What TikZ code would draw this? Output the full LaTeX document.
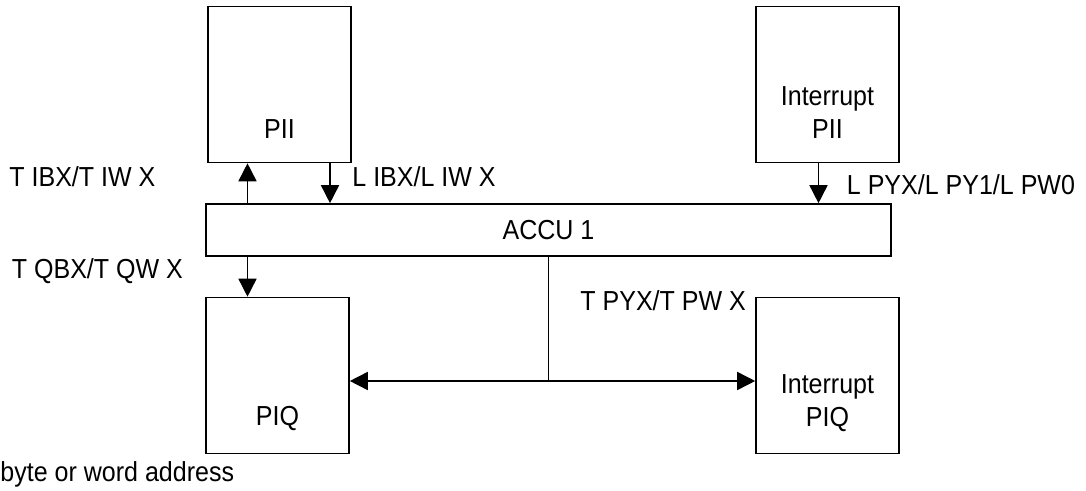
\documentclass[tikz,border=0pt]{standalone}
\usepackage{fontspec}
\setmainfont{Liberation Sans}[FakeStretch=0.91]
\usetikzlibrary{arrows.meta,positioning,calc}
\tikzset{
  >={Triangle[length=9pt,width=9pt]},
  blk/.style  ={draw,line width=0.8pt,minimum width=71.5pt,minimum height=78pt,inner sep=0pt},
  accu/.style ={draw,line width=0.8pt,minimum width=342.5pt,minimum height=26pt,inner sep=0pt},
  btxt/.style ={align=center,inner sep=0pt},
  ar/.style   ={->,line width=0.8pt},
  ln/.style   ={line width=0.8pt},
  lbl/.style  ={anchor=base west,inner sep=0pt},
}

\begin{document}
\begin{tikzpicture}[x=0.5pt,y=-0.5pt,every node/.style={font=\fontsize{13.75}{16.5}\selectfont}]
\useasboundingbox (0,0) rectangle (1086,491);

% image tables and accumulator
\node[blk]  (pii)  at (279.5,84.5)  {};
\node[blk]  (ipii) at (827.5,84.5)  {};
\node[accu] (acc)  at (548.5,230)   {ACCU 1};
\node[blk]  (piq)  at (277.5,375.5) {};
\node[blk]  (ipiq) at (827.5,375.5) {};

\node[btxt] (piit)  at ([yshift=17pt]pii.south)     {PII};
\node[btxt] (ipiit) at ([yshift=25.25pt]ipii.south) {Interrupt\\PII};
\node[btxt] (piqt)  at ([yshift=18pt]piq.south)     {PIQ};
\node[btxt] (ipiqt) at ([yshift=25.75pt]ipiq.south) {Interrupt\\PIQ};

% x positions of the transfers
\coordinate (tx) at (247.5,0);
\coordinate (lx) at (330,0);
\coordinate (px) at (818.5,0);
\coordinate (br) at (548.5,381);

\draw[ar] (tx |- acc.north) -- (tx |- pii.south);
\draw[ar] (lx |- pii.south) -- (lx |- acc.north);
\draw[ar] (px |- ipii.south) -- (px |- acc.north);
\draw[ar] (tx |- acc.south) -- (tx |- piq.north);

\draw[ln] (br |- acc.south) -- (br);
\draw[ar] (br) -- (br -| piq.east);
\draw[ar] (br) -- (br -| ipiq.west);

% operations
\node[lbl] (tib)  at (9,187)    {T IBX/T IW X};
\node[lbl] (lib)  at (352,187)  {L IBX/L IW X};
\node[lbl] (lpy)  at (846.5,195) {L PYX/L PY1/L PW0};
\node[lbl] (tqb)  at (11.5,279) {T QBX/T QW X};
\node[lbl] (tpy)  at (580,311)  {T PYX/T PW X};
\node[lbl] (note) at (0,481)    {byte or word address};
\end{tikzpicture}
\end{document}
